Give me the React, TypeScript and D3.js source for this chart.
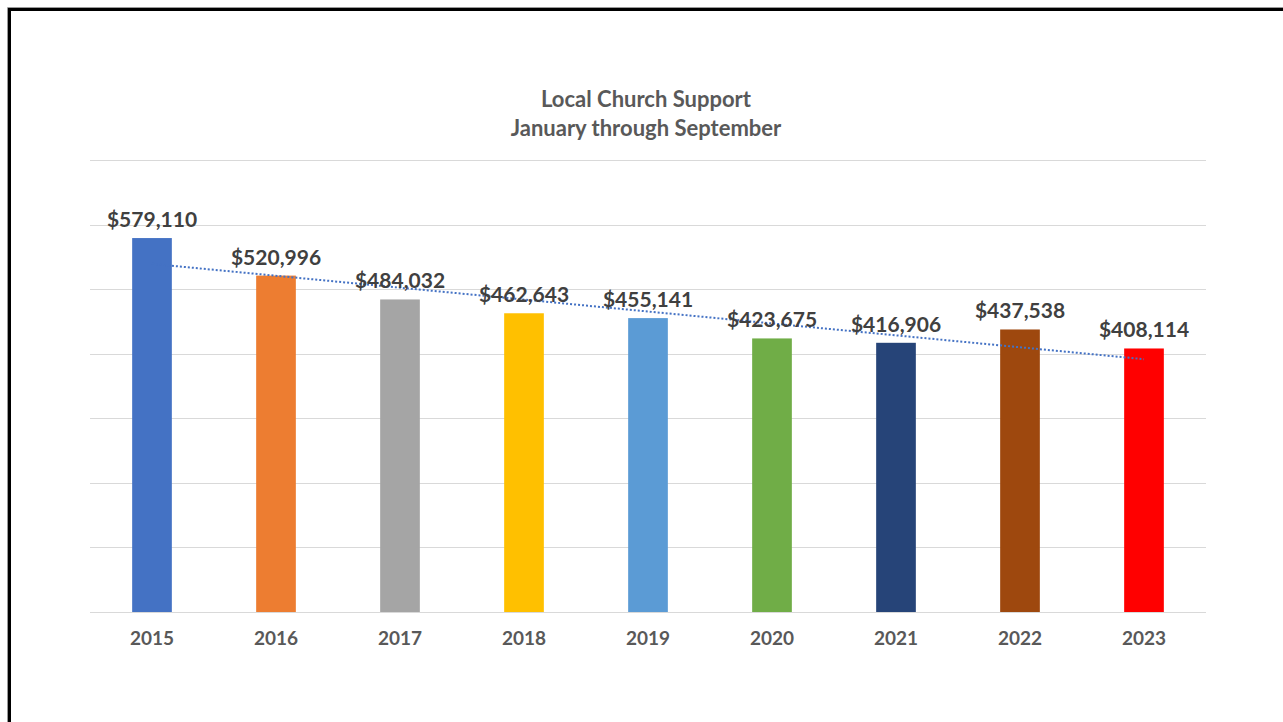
import React from "react";
import * as d3 from "d3";

const years = ["2015", "2016", "2017", "2018", "2019", "2020", "2021", "2022", "2023"];
const values = [579110, 520996, 484032, 462643, 455141, 423675, 416906, 437538, 408114];
const barColors = ["#4472C4", "#ED7D31", "#A5A5A5", "#FFC000", "#5B9BD5", "#70AD47", "#264478", "#9E480E", "#FF0000"];
const gridTicks = [0, 100000, 200000, 300000, 400000, 500000, 600000, 700000];
const titleLines = ["Local Church Support", "January through September"];

const W = 1283, H = 722;
const FONT = "Lato, 'Open Sans', sans-serif";

export default function App() {
  const x = d3.scaleBand<string>().domain(years).range([90, 1206]).paddingInner(0.68).paddingOuter(0.34);
  const y = d3.scaleLinear().domain([0, 700000]).range([612, 160]);
  const fmt = (v: number) => "$" + d3.format(",")(v);

  // linear trendline (least squares over category index)
  const n = values.length;
  const xs = values.map((_, i) => i + 1);
  const mx = d3.mean(xs)!;
  const my = d3.mean(values)!;
  const slope = d3.sum(xs.map((xi, i) => (xi - mx) * (values[i] - my))) / d3.sum(xs.map((xi) => (xi - mx) ** 2));
  const icpt = my - slope * mx;
  const trendPts: [number, number][] = [1, n].map((k) => [x(years[k - 1])! + x.bandwidth() / 2, y(icpt + slope * k)]);
  const line = d3.line();

  return (
    <svg width={W} height={H} style={{ position: "absolute", left: 0, top: 0, background: "#fff" }}>
      <rect x={0} y={0} width={W} height={H} fill="#fff" />
      <path d={`M7.5,${H} V7.5 H${W}`} fill="none" stroke="#9a9a9a" strokeWidth={1} />
      <path d={`M9.5,${H} V9.5 H${W}`} fill="none" stroke="#000" strokeWidth={3} />
      <g fontFamily={FONT} fontWeight={700} fill="#595959" textAnchor="middle" fontSize={22}>
        {titleLines.map((t, i) => (
          <text key={t} x={646} y={107 + i * 29}>{t}</text>
        ))}
      </g>
      {gridTicks.map((t) => (
        <line key={t} x1={90} x2={1206} y1={Math.round(y(t)) + 0.5} y2={Math.round(y(t)) + 0.5} stroke="#D9D9D9" strokeWidth={1} />
      ))}
      {years.map((yr, i) => (
        <rect key={yr} x={x(yr)} y={y(values[i])} width={x.bandwidth()} height={y(0) - y(values[i])} fill={barColors[i]} />
      ))}
      <path d={line(trendPts)!} fill="none" stroke="#4472C4" strokeWidth={2} strokeDasharray="2 2" />
      <g fontFamily={FONT} fontWeight={700} fill="#404040" textAnchor="middle" fontSize={21}>
        {years.map((yr, i) => (
          <text key={yr} x={x(yr)! + x.bandwidth() / 2} y={y(values[i]) - 11}>{fmt(values[i])}</text>
        ))}
      </g>
      <g fontFamily={FONT} fontWeight={700} fill="#595959" textAnchor="middle" fontSize={19}>
        {years.map((yr) => (
          <text key={yr} x={x(yr)! + x.bandwidth() / 2} y={645}>{yr}</text>
        ))}
      </g>
    </svg>
  );
}
